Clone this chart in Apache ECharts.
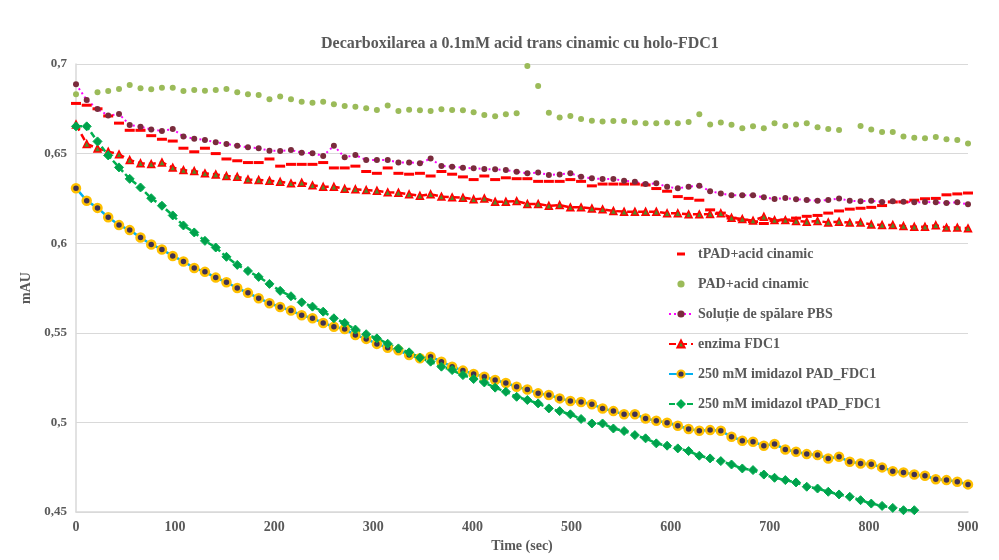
<!DOCTYPE html>
<html>
<head>
<meta charset="utf-8">
<script src="https://cdn.jsdelivr.net/npm/echarts@6/dist/echarts.min.js"></script>
<style>
  html, body { margin: 0; padding: 0; background: #fff; }
  #chart { width: 999px; height: 560px; }
</style>
</head>
<body>
<div id="chart"></div>
<script>
// time points (sec)
const times = [0, 10.8, 21.7, 32.5, 43.4, 54.2, 65.1, 75.9, 86.7, 97.6,
  108.4, 119.3, 130.1, 141.0, 151.8, 162.7, 173.5, 184.3, 195.2, 206.0,
  216.9, 227.7, 238.6, 249.4, 260.2, 271.1, 281.9, 292.8, 303.6, 314.5,
  325.3, 336.1, 347.0, 357.8, 368.7, 379.5, 390.4, 401.2, 412.0, 422.9,
  433.7, 444.6, 455.4, 466.3, 477.1, 488.0, 498.8, 509.6, 520.5, 531.3,
  542.2, 553.0, 563.9, 574.7, 585.5, 596.4, 607.2, 618.1, 628.9, 639.8,
  650.6, 661.4, 672.3, 683.1, 694.0, 704.8, 715.7, 726.5, 737.3, 748.2,
  759.0, 769.9, 780.7, 791.6, 802.4, 813.3, 824.1, 834.9, 845.8, 856.6,
  867.5, 878.3, 889.2, 900];

const seriesNames = ['tPAD+acid cinamic', 'PAD+acid cinamic', 'Soluție de spălare PBS',
  'enzima FDC1', '250 mM imidazol PAD_FDC1', '250 mM imidazol tPAD_FDC1'];

const tpadAcid = [0.678, 0.677, 0.675, 0.671, 0.667, 0.663, 0.663, 0.660, 0.658, 0.657,
  0.653, 0.651, 0.653, 0.650, 0.647, 0.646, 0.645, 0.645, 0.647, 0.643,
  0.644, 0.644, 0.644, 0.645, 0.642, 0.642, 0.643, 0.640, 0.639, 0.642,
  0.639, 0.6385, 0.639, 0.6375, 0.640, 0.6385, 0.637, 0.6355, 0.6375, 0.6355,
  0.6365, 0.636, 0.636, 0.6345, 0.6345, 0.6345, 0.6355, 0.6345, 0.632, 0.633,
  0.633, 0.633, 0.633, 0.6325, 0.6305, 0.629, 0.626, 0.625, 0.624, 0.6186,
  0.6168, 0.614, 0.613, 0.612, 0.611, 0.6126, 0.613, 0.614, 0.615, 0.6155,
  0.6168, 0.618, 0.619, 0.6195, 0.620, 0.621, 0.623, 0.623, 0.624, 0.6248,
  0.625, 0.627, 0.6275, 0.628];

const padAcid = [0.6831, null, 0.6842, 0.6849, 0.6860, 0.6883, 0.6864, 0.6859, 0.6868, 0.6868,
  0.6849, 0.6855, 0.6851, 0.6855, 0.6860, 0.6842, 0.6831, 0.6827, 0.6803, 0.6818,
  0.6803, 0.6790, 0.6784, 0.6790, 0.6775, 0.6766, 0.6762, 0.6753, 0.6743, 0.6768,
  0.6738, 0.6745, 0.6742, 0.6738, 0.6748, 0.6743, 0.6742, 0.6731, 0.6716, 0.6708,
  0.6720, 0.6725, 0.6989, 0.6877, 0.6728, 0.6702, 0.6710, 0.6693, 0.6684, 0.6679,
  0.6682, 0.6682, 0.6673, 0.6669, 0.6669, 0.6674, 0.6669, 0.6677, 0.6720, 0.6663,
  0.6674, 0.6661, 0.6642, 0.6653, 0.6642, 0.6669, 0.6654, 0.6663, 0.6669, 0.6647,
  0.6637, 0.6632, null, 0.6654, 0.6635, 0.6621, 0.6621, 0.6595, 0.6589, 0.6585,
  0.6593, 0.6580, 0.6576, 0.6557];

const pbs = [0.6887, 0.6799, 0.6749, 0.6712, 0.6721, 0.6660, 0.6650, 0.6635, 0.6626, 0.6637,
  0.6595, 0.6583, 0.6576, 0.6563, 0.6554, 0.6544, 0.6535, 0.6530, 0.6516, 0.6515,
  0.6520, 0.6505, 0.6502, 0.6487, 0.6544, 0.6479, 0.6492, 0.6464, 0.6464, 0.6464,
  0.6451, 0.6451, 0.6446, 0.6472, 0.6431, 0.6427, 0.6421, 0.6418, 0.6414, 0.6412,
  0.6408, 0.6399, 0.6390, 0.6394, 0.6381, 0.6384, 0.6390, 0.6371, 0.6362, 0.6358,
  0.6358, 0.6349, 0.6343, 0.6330, 0.6334, 0.6315, 0.6306, 0.6315, 0.6321, 0.6290,
  0.6278, 0.6267, 0.6267, 0.6267, 0.6256, 0.6247, 0.6252, 0.6245, 0.6241, 0.6237,
  0.6241, 0.6249, 0.6237, 0.6234, 0.6237, 0.6230, 0.6234, 0.6232, 0.6228, 0.6230,
  0.6228, 0.6224, 0.6228, 0.6217];

const enzima = [0.6663, 0.6554, 0.6529, 0.6511, 0.6496, 0.6464, 0.6446, 0.6442, 0.6451, 0.6422,
  0.6408, 0.6403, 0.6390, 0.6384, 0.6375, 0.6371, 0.6356, 0.6353, 0.6349, 0.6343,
  0.6334, 0.6338, 0.6323, 0.6315, 0.6315, 0.6304, 0.6301, 0.6297, 0.6293, 0.6284,
  0.6282, 0.6273, 0.6265, 0.6273, 0.6260, 0.6256, 0.6254, 0.6245, 0.6250, 0.6232,
  0.6232, 0.6235, 0.6219, 0.6219, 0.6209, 0.6213, 0.6200, 0.6200, 0.6194, 0.6189,
  0.6180, 0.6176, 0.6176, 0.6176, 0.6176, 0.6167, 0.6167, 0.6161, 0.6161, 0.6163,
  0.6167, 0.6142, 0.6135, 0.6126, 0.6148, 0.6129, 0.6129, 0.6124, 0.6120, 0.6124,
  0.6116, 0.6120, 0.6115, 0.6116, 0.6105, 0.6102, 0.6102, 0.6096, 0.6092, 0.6092,
  0.6100, 0.6087, 0.6087, 0.6083];

const imidazolPad = [0.6307, 0.6237, 0.6197, 0.6145, 0.6101, 0.6073, 0.6032, 0.5993, 0.5965, 0.5929,
  0.5898, 0.5862, 0.5840, 0.5808, 0.5782, 0.5750, 0.5723, 0.5693, 0.5665, 0.5644,
  0.5624, 0.5598, 0.5581, 0.5555, 0.5534, 0.5521, 0.5488, 0.5466, 0.5438, 0.5417,
  0.5402, 0.5376, 0.5358, 0.5367, 0.5339, 0.5311, 0.5289, 0.5270, 0.5255, 0.5237,
  0.5220, 0.5199, 0.5184, 0.5162, 0.5153, 0.5134, 0.5119, 0.5114, 0.5101, 0.5078,
  0.5063, 0.5045, 0.5045, 0.5022, 0.5009, 0.4998, 0.4981, 0.4963, 0.4953, 0.4957,
  0.4953, 0.4920, 0.4898, 0.4892, 0.4870, 0.4879, 0.4849, 0.4836, 0.4823, 0.4818,
  0.4799, 0.4808, 0.4780, 0.4771, 0.4767, 0.4749, 0.4728, 0.4721, 0.4709, 0.4702,
  0.4683, 0.4678, 0.4669, 0.4654];

const imidazolTpad = [0.6652, 0.6652, 0.6568, 0.6490, 0.6423, 0.6359, 0.6311, 0.6251, 0.6209, 0.6155,
  0.6099, 0.6060, 0.6013, 0.5976, 0.5924, 0.5879, 0.5845, 0.5812, 0.5773, 0.5734,
  0.5704, 0.5670, 0.5646, 0.5618, 0.5581, 0.5555, 0.5518, 0.5492, 0.5469, 0.5439,
  0.5413, 0.5391, 0.5361, 0.5339, 0.5311, 0.5292, 0.5264, 0.5242, 0.5223, 0.5194,
  0.5171, 0.5143, 0.5125, 0.5106, 0.5078, 0.5063, 0.5045, 0.5019, 0.4994, 0.4994,
  0.4966, 0.4952, 0.4929, 0.4911, 0.4883, 0.4870, 0.4855, 0.4840, 0.4814, 0.4799,
  0.4784, 0.4765, 0.4743, 0.4734, 0.4709, 0.4691, 0.4678, 0.4665, 0.4641, 0.4631,
  0.4613, 0.4598, 0.4585, 0.4566, 0.4547, 0.4534, 0.4523, 0.4510, 0.4510];

function pairs(vals) {
  return vals.map(function (v, i) { return [times[i], v]; });
}

const font = "'Liberation Serif', 'Times New Roman', serif";
const textGrey = '#595959';

let chart = echarts.init(document.getElementById('chart'));

// legend: first item is just a short dash centred in the icon box
let legendData = seriesNames.map(function (n, i) {
  if (i === 0) return { name: n, icon: 'path://M0,0 M24,9 M8,3 L16,3 L16,6 L8,6 Z' };
  return { name: n };
});

let option = {
  animation: false,
  backgroundColor: '#fff',
  title: {
    text: 'Decarboxilarea a 0.1mM acid trans cinamic cu holo-FDC1',
    left: 316,
    top: 31,
    textStyle: { fontFamily: font, fontSize: 16, fontWeight: 'bold', color: textGrey }
  },
  legend: {
    orient: 'vertical',
    left: 668,
    top: 247,
    padding: 0,
    itemWidth: 24,
    itemHeight: 9,
    itemGap: 16,
    data: legendData,
    textStyle: { fontFamily: font, fontSize: 14, fontWeight: 'bold', color: textGrey }
  },
  grid: { left: 76, right: 31, top: 64, bottom: 48 },
  xAxis: {
    type: 'value',
    min: 0, max: 900, interval: 100,
    name: 'Time (sec)',
    nameLocation: 'middle',
    nameGap: 27,
    nameTextStyle: { fontFamily: font, fontSize: 14, fontWeight: 'bold', color: textGrey },
    axisLine: { lineStyle: { color: '#d9d9d9', width: 1.5 } },
    axisTick: { show: false },
    splitLine: { show: false },
    axisLabel: { fontFamily: font, fontSize: 14, fontWeight: 'bold', color: textGrey, margin: 8 }
  },
  yAxis: {
    type: 'value',
    min: 0.45, max: 0.7, interval: 0.05,
    name: 'mAU',
    nameLocation: 'middle',
    nameGap: 40,
    nameTextStyle: { fontFamily: font, fontSize: 14, fontWeight: 'bold', color: textGrey },
    axisLine: { show: true, lineStyle: { color: '#d9d9d9', width: 1.5 } },
    axisTick: { show: false },
    splitLine: { lineStyle: { color: '#d9d9d9', width: 1 } },
    axisLabel: {
      fontFamily: font, fontSize: 13, fontWeight: 'bold', color: textGrey, margin: 9,
      formatter: function (v) { return String(+v.toFixed(2)).replace('.', ','); }
    }
  },
  series: [
    {
      name: seriesNames[0],
      type: 'line',
      data: pairs(tpadAcid),
      symbol: 'rect',
      symbolSize: [10, 3],
      lineStyle: { width: 0, opacity: 0 },
      itemStyle: { color: '#ff0000' }
    },
    {
      name: seriesNames[1],
      type: 'line',
      data: pairs(padAcid),
      symbol: 'circle',
      symbolSize: 6,
      lineStyle: { width: 0, opacity: 0 },
      itemStyle: { color: '#9bbb59' }
    },
    {
      name: seriesNames[2],
      type: 'line',
      data: pairs(pbs),
      symbol: 'circle',
      symbolSize: 6,
      lineStyle: { color: '#ff00ff', width: 2, type: [2, 3] },
      itemStyle: { color: '#7a2b3c' }
    },
    {
      name: seriesNames[3],
      type: 'line',
      data: pairs(enzima),
      symbol: 'triangle',
      symbolSize: 7,
      lineStyle: { color: '#ff0000', width: 2.5, type: [7, 4] },
      itemStyle: { color: '#4f8a2b', borderColor: '#ff0000', borderWidth: 1.5 }
    },
    {
      name: seriesNames[4],
      type: 'line',
      data: pairs(imidazolPad),
      symbol: 'circle',
      symbolSize: 8,
      lineStyle: { color: '#00b0f0', width: 2.5 },
      itemStyle: { color: '#403152', borderColor: '#ffc000', borderWidth: 2.5 }
    },
    {
      name: seriesNames[5],
      type: 'line',
      data: pairs(imidazolTpad),
      symbol: 'diamond',
      symbolSize: 9,
      lineStyle: { color: '#00b050', width: 2.5, type: [6, 3] },
      itemStyle: { color: '#00a04c', borderColor: '#00b050', borderWidth: 1 }
    }
  ]
};
chart.setOption(option);
</script>
</body>
</html>
